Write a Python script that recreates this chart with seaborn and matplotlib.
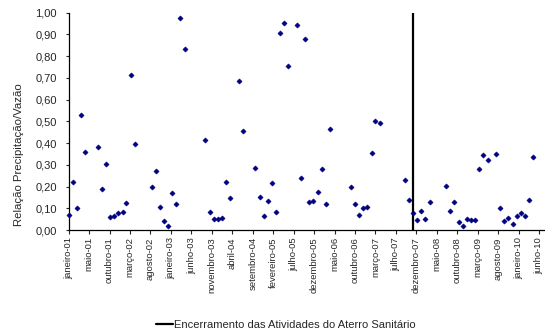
import pandas as pd
import numpy as np
import matplotlib
matplotlib.use("Agg")
import matplotlib.pyplot as plt
import seaborn as sns
from matplotlib.ticker import FuncFormatter

# monthly ratio values (months with no data are left out)
meses = [
    "2001-01", "2001-02", "2001-03", "2001-04", "2001-05",
    "2001-08", "2001-09", "2001-10", "2001-11", "2001-12", "2002-01", "2002-02",
    "2002-03", "2002-04", "2002-05",
    "2002-09", "2002-10", "2002-11", "2002-12", "2003-01", "2003-02", "2003-03",
    "2003-04", "2003-05",
    "2003-10", "2003-11", "2003-12", "2004-01", "2004-02", "2004-03", "2004-04",
    "2004-06", "2004-07",
    "2004-10", "2004-11", "2004-12", "2005-01", "2005-02", "2005-03", "2005-04",
    "2005-05", "2005-06",
    "2005-08", "2005-09", "2005-10", "2005-11", "2005-12", "2006-01", "2006-02",
    "2006-03", "2006-04",
    "2006-09", "2006-10", "2006-11", "2006-12", "2007-01", "2007-02", "2007-03",
    "2007-04",
    "2007-10", "2007-11", "2007-12", "2008-01", "2008-02", "2008-03", "2008-04",
    "2008-08", "2008-09", "2008-10", "2008-11", "2008-12", "2009-01", "2009-02",
    "2009-03", "2009-04", "2009-05", "2009-06",
    "2009-08", "2009-09", "2009-10", "2009-11", "2009-12", "2010-01", "2010-02",
    "2010-03", "2010-04", "2010-05",
]
valores = [
    0.069, 0.222, 0.103, 0.531, 0.357,
    0.380, 0.189, 0.302, 0.061, 0.067, 0.080, 0.084,
    0.123, 0.712, 0.397,
    0.198, 0.270, 0.105, 0.043, 0.021, 0.169, 0.121,
    0.974, 0.831,
    0.414, 0.084, 0.051, 0.051, 0.057, 0.222, 0.149,
    0.687, 0.456,
    0.284, 0.153, 0.066, 0.133, 0.215, 0.083, 0.908,
    0.951, 0.755,
    0.943, 0.238, 0.879, 0.130, 0.133, 0.176, 0.279,
    0.118, 0.465,
    0.199, 0.118, 0.071, 0.101, 0.107, 0.353, 0.502,
    0.491,
    0.230, 0.137, 0.077, 0.046, 0.086, 0.049, 0.127,
    0.202, 0.087, 0.127, 0.037, 0.018, 0.051, 0.048,
    0.046, 0.279, 0.345, 0.322,
    0.348, 0.103, 0.040, 0.057, 0.028, 0.067, 0.078,
    0.064, 0.137, 0.336,
]

# closing date of the landfill (vertical marker line)
encerramento = "2007-12-01"
encerramento_label = "Encerramento das Atividades do Aterro Sanitário"

# date axis: one tick every 150 days from jan 2001
tick_labels = [
    "janeiro-01", "maio-01", "outubro-01", "março-02", "agosto-02",
    "janeiro-03", "junho-03", "novembro-03", "abril-04", "setembro-04",
    "fevereiro-05", "julho-05", "dezembro-05", "maio-06", "outubro-06",
    "março-07", "julho-07", "dezembro-07", "maio-08", "outubro-08",
    "março-09", "agosto-09", "janeiro-10", "junho-10",
]

df = pd.DataFrame({"data": pd.to_datetime(meses), "relacao": valores})

sns.set_style("white")
plt.rcParams['font.family'] = ['Liberation Sans', 'DejaVu Sans']

fig = plt.figure(figsize=(5.45, 3.33), dpi=100)
ax = fig.add_axes([0.126, 0.309, 0.874, 0.653])

sns.scatterplot(data=df, x="data", y="relacao", ax=ax, marker="D",
                color="#000080", edgecolor="#000080", s=7, linewidth=0.4,
                zorder=3, clip_on=False)

d_enc = pd.Timestamp(encerramento)
ax.plot([d_enc, d_enc], [0, 1], color="black", linewidth=1.6,
        label=encerramento_label, zorder=2)

inicio = pd.Timestamp("2001-01-01")
ticks = pd.date_range(inicio, periods=len(tick_labels), freq="150D")
ax.set_xticks(ticks)
ax.set_xticklabels(tick_labels, rotation=90, fontsize=6.8)
ax.set_xlim(inicio, inicio + pd.Timedelta(days=3494))

ax.set_ylim(0, 1)
ax.set_yticks(np.arange(0, 1.01, 0.1))
ax.yaxis.set_major_formatter(FuncFormatter(lambda v, p: f"{v:.2f}".replace(".", ",")))
ax.tick_params(axis="y", labelsize=8, length=2.4, width=0.8, direction="out",
               left=True, pad=6)
ax.tick_params(axis="x", length=2.6, width=0.8, direction="out", bottom=True, pad=2.5)

ax.set_xlabel("")
ax.set_ylabel("Relação Precipitação/Vazão", fontsize=8.2)
ax.yaxis.set_label_coords(-0.094, 0.347)

for s in ["top", "right"]:
    ax.spines[s].set_visible(False)
for s in ["left", "bottom"]:
    ax.spines[s].set_color("black")
    ax.spines[s].set_linewidth(0.9)
ax.grid(False)

fig.legend(loc="lower center", bbox_to_anchor=(0.525, -0.02), frameon=False,
           fontsize=8, handlelength=1.5, handletextpad=0.1)

fig.savefig("out.png", dpi=100)
